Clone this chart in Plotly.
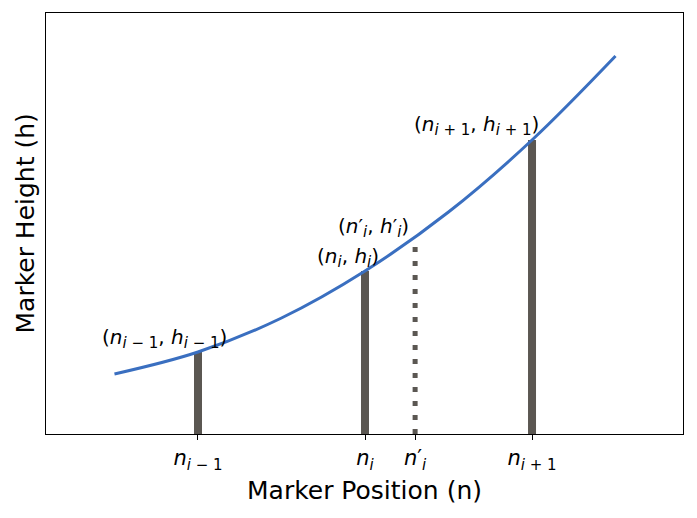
import plotly.graph_objects as go

# curve of marker height against marker position
curve_n = [0.5, 1.0, 1.5, 2.0, 2.5, 3.0, 3.5]
curve_h = [0.60, 0.82, 1.16, 1.63, 2.22, 2.94, 3.78]

# vertical markers
bar_n = [1.0, 2.0, 3.0]
bar_h = [0.82, 1.63, 2.94]
interp_n = 2.3
interp_h = 1.90

tick_vals = [1.0, 2.0, 2.3, 3.0]
label_n = [0.80, 1.90, 2.05, 2.67]
label_h = [0.96, 1.77, 2.07, 3.09]


def sub(s, px):
    return f"<sub><span style='font-size:{px}px'>{s}</span></sub>"


def tick(prime, s):
    return f"<i>n</i>{prime}" + sub(s, 15)


def label(prime, s):
    return (f"(<i>n</i>{prime}" + sub(s, 15) + f", <i>h</i>{prime}" + sub(s, 15) + ")")


tick_text = [tick("", "<i>i</i> − 1"), tick("", "<i>i</i>"),
             tick("′", "<i>i</i>"), tick("", "<i>i</i> + 1")]
label_text = [label("", "<i>i</i> − 1"), label("", "<i>i</i>"),
              label("′", "<i>i</i>"), label("", "<i>i</i> + 1")]

BAR = "#5b5752"
fig = go.Figure()

for n, h in zip(bar_n, bar_h):
    fig.add_trace(go.Scatter(x=[n, n], y=[0, h], mode="lines",
                             line=dict(color=BAR, width=8), hoverinfo="skip"))
fig.add_trace(go.Scatter(x=[interp_n, interp_n], y=[0, interp_h], mode="lines",
                         line=dict(color=BAR, width=5, dash="5px,9px"), hoverinfo="skip"))

fig.add_trace(go.Scatter(x=curve_n, y=curve_h, mode="lines",
                         line=dict(color="#3a6fc0", width=3, shape="spline")))

for n, h, t in zip(label_n, label_h, label_text):
    fig.add_annotation(x=n, y=h, text=t, showarrow=False,
                       font=dict(size=20, color="black"))

# axis titles as paper annotations so the plot area keeps its place
fig.add_annotation(x=0.5, y=0, xref="paper", yref="paper", yshift=-56,
                   text="Marker Position (n)", showarrow=False,
                   font=dict(size=25), yanchor="middle")
fig.add_annotation(x=0, y=0.5, xref="paper", yref="paper", xshift=-21,
                   text="Marker Height (h)", showarrow=False, textangle=-90,
                   font=dict(size=25), xanchor="center", yanchor="middle")

axis_common = dict(showline=True, linecolor="black", linewidth=1.2, mirror=True,
                   showgrid=False, zeroline=False, automargin=False)
# the page body adds 8px around the figure
fig.update_layout(
    width=681, height=502,
    margin=dict(l=38, r=6, t=5, b=76),
    paper_bgcolor="white", plot_bgcolor="white",
    font=dict(family="DejaVu Sans", color="black"),
    showlegend=False,
    xaxis=dict(axis_common, range=[0.09, 3.904], tickmode="array",
               tickvals=tick_vals, ticktext=tick_text, ticks="outside",
               ticklen=5, tickcolor="black", tickfont=dict(size=21)),
    yaxis=dict(axis_common, range=[0, 4.21], showticklabels=False, ticks=""),
)

fig.write_html("out.html")
